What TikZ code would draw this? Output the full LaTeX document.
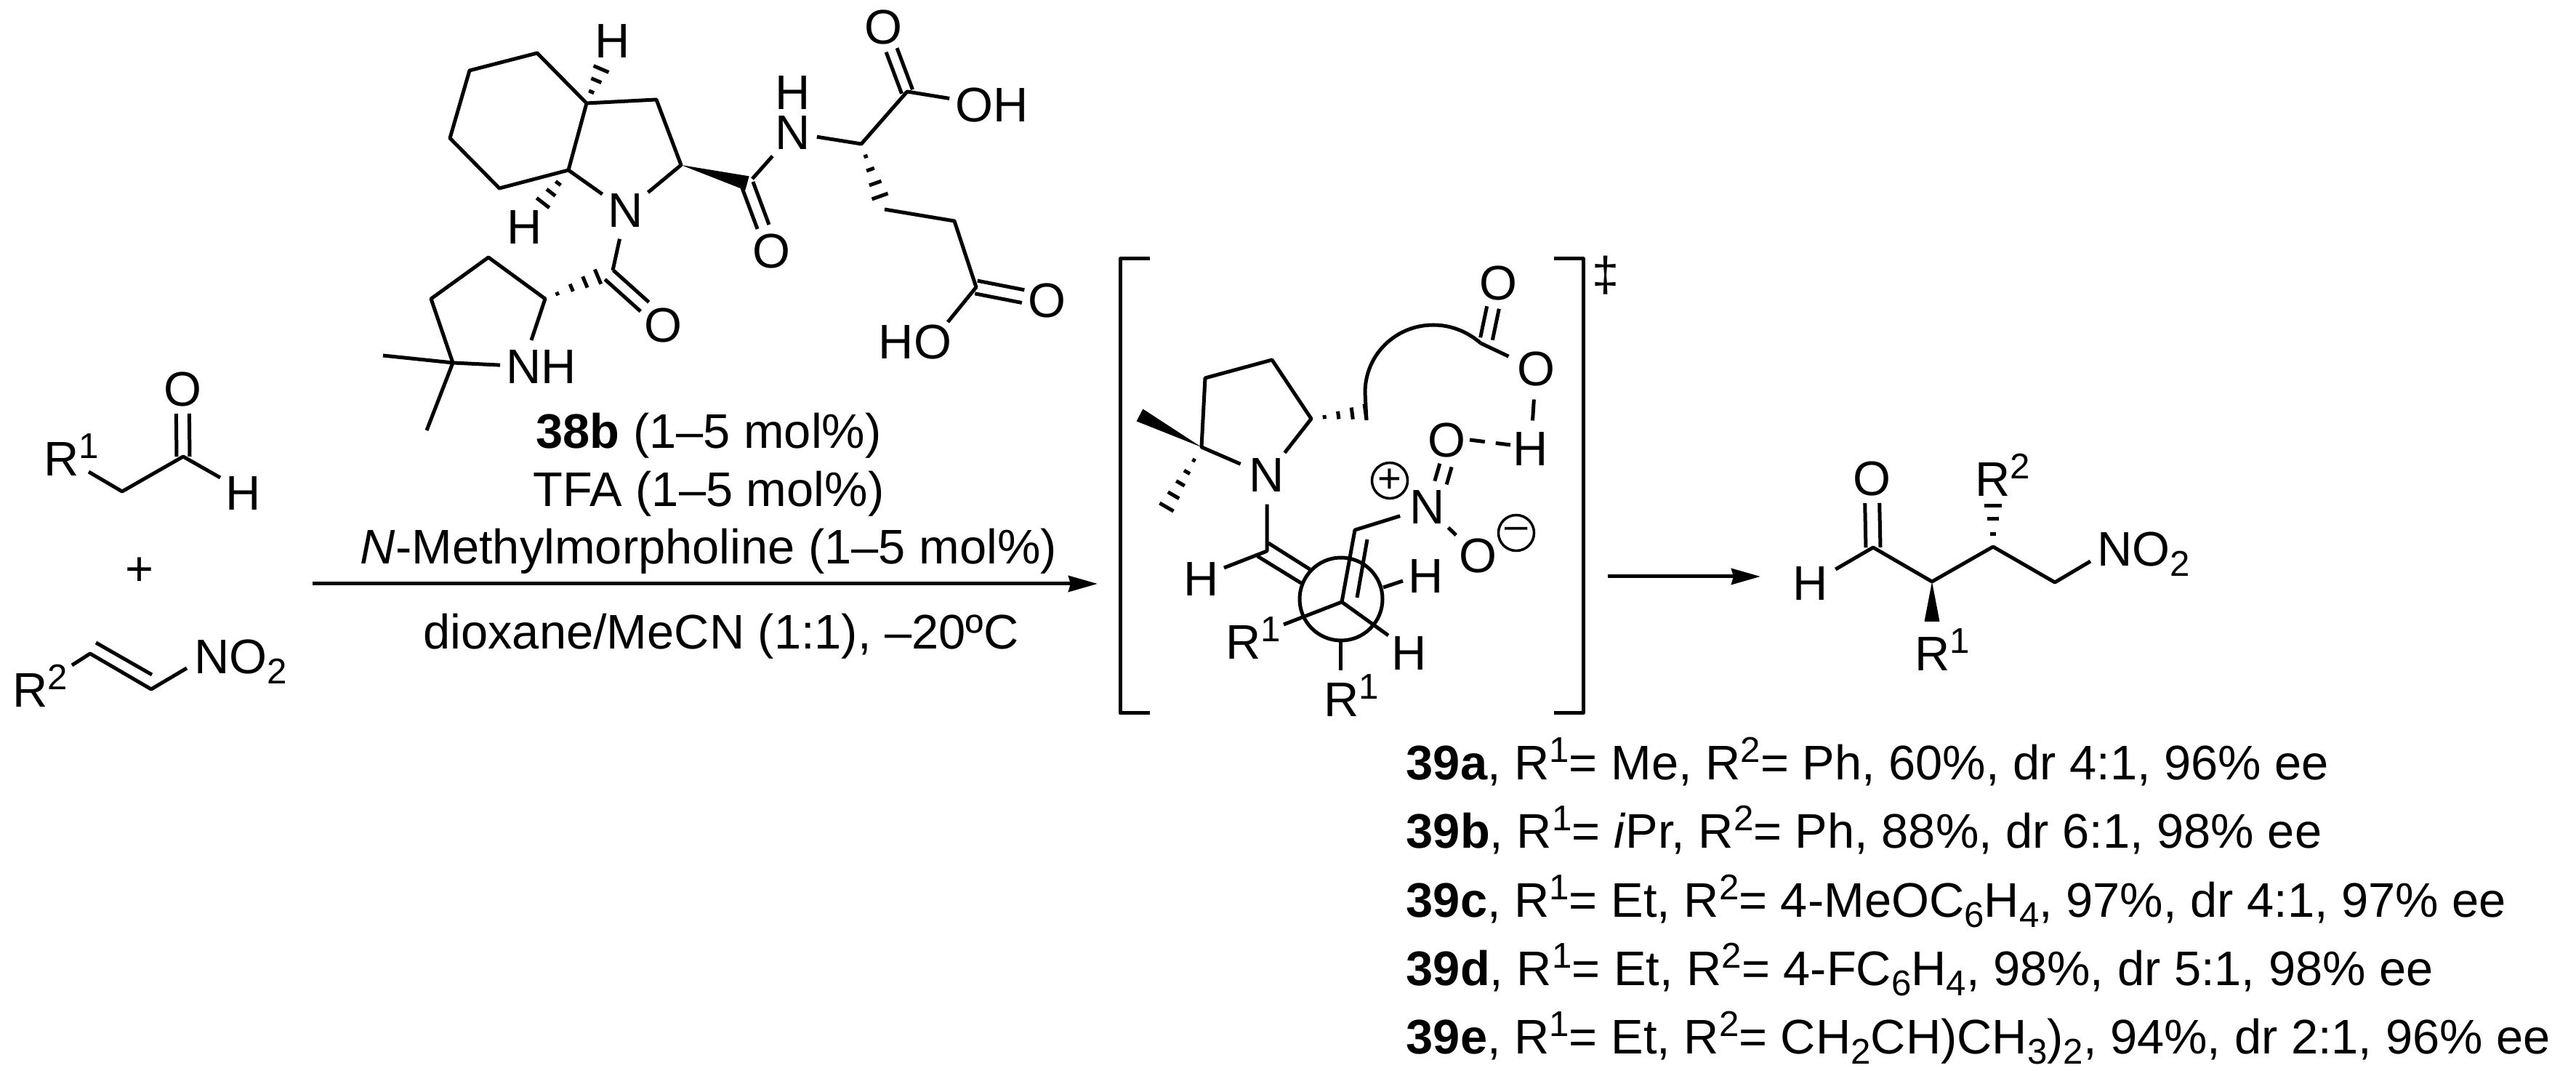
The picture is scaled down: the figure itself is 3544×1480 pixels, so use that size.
\documentclass[tikz,border=0pt]{standalone}
\usepackage{fontspec}
\setmainfont{Liberation Sans}
\usetikzlibrary{calc,arrows.meta}
\def\sps#1{\raisebox{7.1pt}{\fontsize{14pt}{14pt}\selectfont #1}}
\def\sbs#1{\raisebox{-3.7pt}{\fontsize{14pt}{14pt}\selectfont #1}}
\def\Rone{R\sps{1}}
\def\Rtwo{R\sps{2}}
\def\dblbond[#1](#2)(#3)#4#5{\draw[bond,#1] ($(#2)!#4!90:(#3)$) -- ($(#3)!#4!-90:(#2)$); \draw[bond,#1] ($(#2)!#5!90:(#3)$) -- ($(#3)!#5!-90:(#2)$);}
\def\hashbond(#1)(#2)#3#4{\foreach \hpos in {#3} {\draw[hashbar] ($(#1)!\hpos!(#2)!\hpos*#4!90:(#2)$) -- ($(#1)!\hpos!(#2)!\hpos*#4!-90:(#2)$);}}
\def\wedgebond(#1)(#2)#3{\fill ($(#2)!#3!90:(#1)$) -- (#1) -- ($(#2)!#3!-90:(#1)$) -- cycle;}
\tikzset{
	bond/.style={line width=0.05cm, line join=round},
	hashbar/.style={line width=0.05cm},
	atom/.style={circle, inner sep=0.04cm},
	grp/.style={rectangle, inner sep=0.08cm},
	lbl/.style={inner sep=0, anchor=base west},
	ctr/.style={inner sep=0, anchor=base},
	charge/.style={circle, draw, line width=0.035cm, minimum size=0.49cm, inner sep=0, font=\fontsize{16pt}{16pt}\selectfont},
	carbonyl/.style={shorten >=0.33cm},
	rxn/.style={line width=0.05cm, -{Stealth[length=0.4cm,width=0.22cm,inset=0.03cm]}}
}

\begin{document}
\begin{tikzpicture}[x=0.01cm, y=-0.01cm, font=\fontsize{19pt}{22pt}\selectfont]
			%%%%% START %%%%%
			\useasboundingbox (0,0) rectangle (3544,1480);
			
			% aldehyde
			\coordinate (ac) at (252,628);
			\coordinate (am) at (168,676);
			\coordinate (ar) at (122,649);
			\coordinate (ae) at (303,657);
			\node[atom] (ao) at (251,536) {O};
			\node[atom] (ah) at (335,679) {H};
			\node[lbl] (ar1) at (60,655) {\Rone};
			\draw[bond] (ar) -- (am) -- (ac) -- (ae);
			\dblbond[carbonyl](ac)(ao){0.09cm}{-0.09cm}
			\node (plus) at (192,786) {+};
			
			% nitroalkene
			\coordinate (na) at (124,899);
			\coordinate (nb) at (208,948);
			\coordinate (nr) at (99,915);
			\coordinate (nn) at (257,919);
			\coordinate (nc) at (132,884);
			\coordinate (nd) at (209,928);
			\node[lbl] (nr2) at (17,973) {\Rtwo};
			\node[lbl] (nno) at (267,927) {NO\sbs{2}};
			\draw[bond] (nr) -- (na) -- (nb) -- (nn);
			\draw[bond] (nc) -- (nd);
			
			% catalyst
			\coordinate (cat1) at (739,73);
			\coordinate (cat2) at (646,97);
			\coordinate (cat3) at (619,190);
			\coordinate (cat4) at (687,259);
			\coordinate (cat5) at (782,234);
			\coordinate (cat6) at (807,142);
			\coordinate (cat7) at (903,137);
			\coordinate (cat8) at (937,227);
			\coordinate (cat9) at (1035,246);
			\coordinate (catw) at (1028,252);
			\coordinate (cata) at (1185,198);
			\coordinate (catb) at (1248,126);
			\coordinate (catc) at (1217,288);
			\coordinate (catd) at (1313,304);
			\coordinate (cate) at (1343,395);
			\coordinate (catf) at (1304,443);
			\coordinate (catg) at (843,372);
			\coordinate (cath) at (750,411);
			\coordinate (cati) at (672,354);
			\coordinate (catj) at (593,411);
			\coordinate (catk) at (623,499);
			\coordinate (catl) at (731,468);
			\coordinate (catm) at (527,489);
			\coordinate (catn) at (587,592);
			\coordinate (cato) at (830,88);
			\coordinate (catp) at (744,283);
			\coordinate (catq) at (1028,253);
			\coordinate (catr) at (1050,312);
			\coordinate (cats) at (838,378);
			\coordinate (catt) at (887,422);
			\node[atom] (ch1) at (843,57) {H};
			\node[atom] (ch2) at (722,313) {H};
			\node[atom] (cn1) at (861,290) {N};
			\node[grp] (cn2) at (1091,183) {N};
			\node[inner sep=0] (ch3) at (1091,128) {H};
			\node[atom] (co1) at (1215,38) {O};
			\node[atom] (co2) at (1061,346) {O};
			\node[atom] (co3) at (912,448) {O};
			\node[atom] (co4) at (1440,414) {O};
			\node[grp] (coh1) at (1365,145) {OH};
			\node[grp] (coh2) at (1259,471) {HO};
			\node[grp] (cnh) at (745,505) {NH};
			\draw[bond] (cat6) -- (cat1) -- (cat2) -- (cat3) -- (cat4) -- (cat5) -- (cat6) -- (cat7) -- (cat8) -- (cn1) -- (cat5);
			\wedgebond(cat8)(catw){0.1cm}
			\hashbond(cat6)(cato){0.29,0.58,0.87}{0.13cm}
			\hashbond(cat5)(catp){0.37,0.63,0.92}{0.12cm}
			\draw[bond] (cat9) -- (cn2) -- (cata) -- (catb) -- (coh1);
			\dblbond[carbonyl](catb)(co1){0.08cm}{-0.08cm}
			\dblbond[](catq)(catr){0.085cm}{-0.085cm}
			\hashbond(cata)(catc){0.19,0.39,0.6,0.8}{0.146cm}
			\draw[bond] (catc) -- (catd) -- (cate) -- (catf);
			\dblbond[carbonyl](cate)(co4){0.09cm}{-0.09cm}
			\draw[bond] (cn1) -- (catg);
			\dblbond[](cats)(catt){0.085cm}{-0.085cm}
			\hashbond(cath)(catg){0.18,0.39,0.59,0.78}{0.14cm}
			\draw[bond] (catl) -- (cath) -- (cati) -- (catj) -- (catk) -- (cnh);
			\draw[bond] (catm) -- (catk) -- (catn);
			
			% conditions
			\node[ctr] (cond1) at (975,617) {\textbf{38b} (1–5 mol\%)};
			\node[ctr] (cond2) at (975,697) {TFA (1–5 mol\%)};
			\node[ctr] (cond3) at (975,776) {\textit{N}-Methylmorpholine (1–5 mol\%)};
			\node[ctr] (cond4) at (992,893) {dioxane/MeCN (1:1), –20ºC};
			\coordinate (arra) at (430,803);
			\coordinate (arrb) at (1510,803);
			\draw[rxn] (arra) -- (arrb);
			
			% transition state
			\draw[bond] (1582,356) -- (1541,356) -- (1541,981) -- (1582,981);
			\draw[bond] (2138,356) -- (2178,356) -- (2178,981) -- (2138,981);
			\node (dagger) at (2209,379) {‡};
			\coordinate (ts1) at (1653,615);
			\coordinate (ts2) at (1658,520);
			\coordinate (ts3) at (1750,495);
			\coordinate (ts4) at (1804,576);
			\coordinate (tsw) at (1568,571);
			\coordinate (tsa) at (1603,701);
			\coordinate (tsb) at (1880,566);
			\coordinate (tsc) at (2037,472);
			\coordinate (tsd) at (1743,758);
			\coordinate (tse) at (1730,765);
			\coordinate (tsf) at (1790,802);
			\coordinate (tsg) at (1745,747);
			\coordinate (tsh) at (1802,783);
			\coordinate (tsi) at (1864,729);
			\coordinate (tsj) at (1846,828);
			\coordinate (tsk) at (1881,742);
			\coordinate (tsl) at (1867,822);
			\coordinate (tsm) at (1845,824);
			\coordinate (tsn) at (1903,808);
			\coordinate (tso) at (1930,799);
			\coordinate (tsp) at (1910,874);
			\coordinate (tsq) at (1766,859);
			\coordinate (tsr) at (1844,881);
			\coordinate (tss) at (1844,922);
			\coordinate (tst) at (2022,605);
			\coordinate (tsu) at (2078,612);
			\coordinate (tsv) at (1880,578);
			\coordinate (tsx) at (2045,466);
			\coordinate (tsy) at (2054,423);
			\coordinate (tsz) at (1982,664);
			\coordinate (tsaa) at (1989,640);
			\coordinate (tsab) at (1684,781);
			\node[atom] (tn1) at (1743,654) {N};
			\node[atom] (tn2) at (1964,698) {N};
			\node[atom] (to1) at (2061,390) {O};
			\node[atom] (to2) at (2113,508) {O};
			\node[atom] (to3) at (1990,606) {O};
			\node[atom] (to4) at (2033,765) {O};
			\node[atom] (th1) at (2106,618) {H};
			\node[atom] (th2) at (1653,797) {H};
			\node[atom] (th3) at (1962,793) {H};
			\node[atom] (th4) at (1939,899) {H};
			\node[lbl] (tr1) at (1686,907) {\Rone};
			\node[lbl] (tr2) at (1821,986) {\Rone};
			\node[charge] (tplus) at (1912,661) {+};
			\node[charge] (tminus) at (2086,733) {–};
			\draw[bond] (tn1) -- (ts1) -- (ts2) -- (ts3) -- (ts4) -- (tn1);
			\wedgebond(ts1)(tsw){0.095cm}
			\hashbond(ts1)(tsa){0.21,0.4,0.58,0.77,0.96}{0.115cm}
			\hashbond(ts4)(tsb){0.24,0.49,0.74,0.98}{0.11cm}
			\draw[bond] (tsv) -- (1878,540) .. controls (1878,488) and (1920,447) .. (1972,447) .. controls (1997,447) and (2020,457) .. (tsc);
			\dblbond[](tsx)(tsy){0.085cm}{-0.085cm}
			\draw[bond] (tsc) -- (to2) -- (th1);
			\draw[bond, dash pattern=on 0.21cm off 0.15cm] (tst) -- (tsu);
			\dblbond[](tsz)(tsaa){0.085cm}{-0.085cm}
			\draw[bond] (tn2) -- (to4);
			\draw[bond] (tn1) -- (tsd) -- (tsab);
			\draw[bond] (tse) -- (tsf);
			\draw[bond] (tsg) -- (tsh);
			\draw[bond] (tn2) -- (tsi) -- (tsj);
			\draw[bond] (tsk) -- (tsl);
			\draw[bond] (tsm) circle [radius=57];
			\draw[bond] (tsn) -- (tso);
			\draw[bond] (tsp) -- (tsj) -- (tsq);
			\draw[bond] (tsr) -- (tss);
			\coordinate (arrc) at (2212,793);
			\coordinate (arrd) at (2422,793);
			\draw[rxn] (arrc) -- (arrd);
			
			% product
			\coordinate (pr1) at (2577,753);
			\coordinate (pr2) at (2658,800);
			\coordinate (pr3) at (2742,752);
			\coordinate (pr4) at (2827,801);
			\coordinate (pr5) at (2876,772);
			\coordinate (pr6) at (2658,855);
			\coordinate (pr7) at (2742,694);
			\node[atom] (po) at (2575,659) {O};
			\node[atom] (ph) at (2491,803) {H};
			\node[lbl] (pr11) at (2634,923) {\Rone};
			\node[lbl] (pr22) at (2717,683) {\Rtwo};
			\node[lbl] (pno) at (2885,779) {NO\sbs{2}};
			\draw[bond] (ph) -- (pr1) -- (pr2) -- (pr3) -- (pr4) -- (pr5);
			\dblbond[carbonyl](pr1)(po){0.1cm}{-0.1cm}
			\wedgebond(pr2)(pr6){0.105cm}
			\hashbond(pr3)(pr7){0.31,0.66,0.98}{0.125cm}
			
			% results
			\node[lbl] (row39a) at (1934,1073) {\textbf{39a}, \Rone= Me, \Rtwo= Ph, 60\%, dr 4:1, 96\% ee};
			\node[lbl] (row39b) at (1934,1167) {\textbf{39b}, \Rone= \textit{i}Pr, \Rtwo= Ph, 88\%, dr 6:1, 98\% ee};
			\node[lbl] (row39c) at (1934,1262) {\textbf{39c}, \Rone= Et, \Rtwo= 4-MeOC\sbs{6}H\sbs{4}, 97\%, dr 4:1, 97\% ee};
			\node[lbl] (row39d) at (1934,1356) {\textbf{39d}, \Rone= Et, \Rtwo= 4-FC\sbs{6}H\sbs{4}, 98\%, dr 5:1, 98\% ee};
			\node[lbl] (row39e) at (1934,1450) {\textbf{39e}, \Rone= Et, \Rtwo= CH\sbs{2}CH)CH\sbs{3})\sbs{2}, 94\%, dr 2:1, 96\% ee};
			%%%%% END %%%%%
\end{tikzpicture}
\end{document}
